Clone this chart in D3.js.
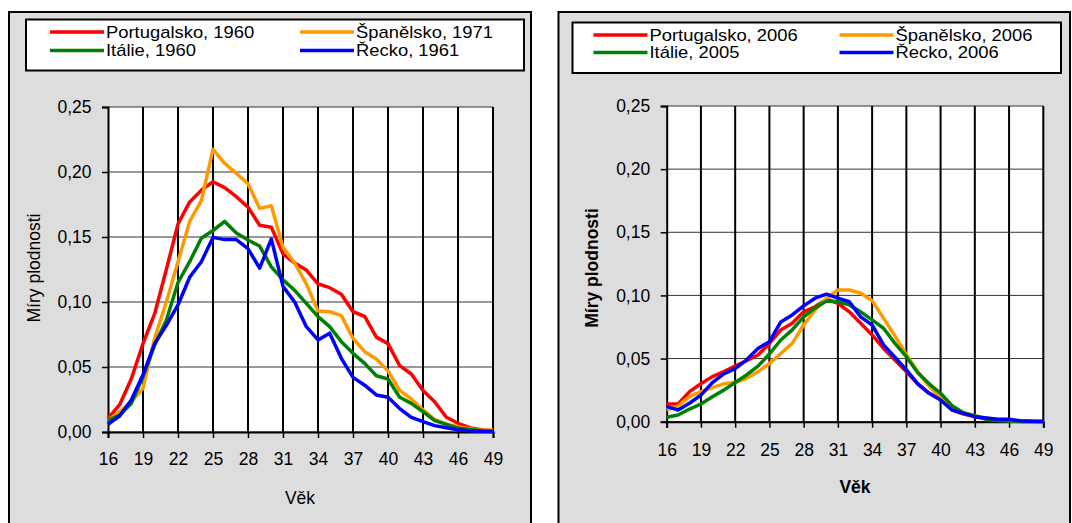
<!DOCTYPE html>
<html><head><meta charset="utf-8">
<script src="https://cdn.jsdelivr.net/npm/d3@7"></script>
<style>
html,body{margin:0;padding:0;background:#fff;}
svg{display:block;font-family:"Liberation Sans",Arial,sans-serif;}
</style></head>
<body>
<svg id="chart" width="1072" height="523"></svg>
<script>
// ---- data ----
const ages = [16,17,18,19,20,21,22,23,24,25,26,27,28,29,30,31,32,33,34,35,36,37,38,39,40,41,42,43,44,45,46,47,48,49];
const xTickLabels = [16,19,22,25,28,31,34,37,40,43,46,49];
const yTickValues = [0,0.05,0.10,0.15,0.20,0.25];

const portugal1960 = [0.0105,0.021,0.041,0.068,0.091,0.125,0.160,0.177,0.186,0.1925,0.188,0.181,0.173,0.159,0.1575,0.137,0.130,0.1246,0.114,0.111,0.106,0.0925,0.089,0.073,0.068,0.051,0.0446,0.032,0.0233,0.0113,0.0067,0.0033,0.0018,0.0005];
const spain1971 = [0.009,0.0156,0.0233,0.0336,0.072,0.100,0.131,0.162,0.178,0.2174,0.2067,0.199,0.191,0.172,0.174,0.142,0.130,0.114,0.093,0.0925,0.0895,0.072,0.0618,0.0562,0.047,0.032,0.0254,0.017,0.0098,0.006,0.004,0.0025,0.0013,0.0018];
const italy1960 = [0.009,0.013,0.022,0.0425,0.067,0.086,0.115,0.131,0.149,0.155,0.162,0.153,0.1477,0.143,0.127,0.117,0.109,0.099,0.0887,0.081,0.0695,0.0605,0.0528,0.0433,0.0408,0.0267,0.022,0.0156,0.0087,0.0059,0.003,0.002,0.001,0.0005];
const greece1961 = [0.006,0.0123,0.0246,0.044,0.068,0.082,0.0977,0.119,0.131,0.1497,0.148,0.148,0.141,0.126,0.1485,0.112,0.100,0.081,0.0708,0.076,0.0567,0.042,0.036,0.0285,0.0267,0.018,0.0113,0.008,0.0049,0.0033,0.0018,0.001,0.0005,0.0003];

const portugal2006 = [0.014,0.014,0.0238,0.030,0.0357,0.0396,0.044,0.0483,0.0528,0.062,0.0727,0.078,0.087,0.091,0.097,0.0938,0.087,0.078,0.0687,0.058,0.0489,0.0396,0.030,0.0225,0.0177,0.0093,0.006,0.004,0.0026,0.0013,0.0008,0.0003,0.0001,0];
const spain2006 = [0.0093,0.0124,0.0198,0.0238,0.027,0.030,0.031,0.0344,0.0396,0.046,0.054,0.062,0.0766,0.0885,0.0978,0.1043,0.1043,0.1017,0.0959,0.082,0.068,0.053,0.0396,0.028,0.019,0.0114,0.0067,0.0048,0.003,0.0018,0.001,0.0005,0.0002,0];
const italy2005 = [0.0035,0.0053,0.010,0.014,0.0198,0.025,0.031,0.037,0.044,0.0536,0.0647,0.0727,0.083,0.090,0.0956,0.095,0.0925,0.087,0.0806,0.074,0.062,0.0515,0.0388,0.030,0.0225,0.0127,0.0071,0.0045,0.0019,0.001,0.0005,0.0002,0.0001,0];
const greece2006 = [0.0119,0.0093,0.0146,0.021,0.031,0.0378,0.042,0.049,0.058,0.0634,0.079,0.0845,0.0917,0.0978,0.101,0.0978,0.095,0.083,0.0766,0.0608,0.051,0.041,0.030,0.0225,0.0172,0.0093,0.0066,0.004,0.003,0.0019,0.0019,0.0008,0.0003,0.0003];

const leftNames = ["Portugalsko, 1960","Španělsko, 1971","Itálie, 1960","Řecko, 1961"];
const rightNames = ["Portugalsko, 2006","Španělsko, 2006","Itálie, 2005","Řecko, 2006"];
const colors = ["#FF0000","#FF9900","#008000","#0000FF"];
const yTitle = "Míry plodnosti";
const xTitle = "Věk";

const svg = d3.select("#chart");
const fmt = v => d3.format(".2f")(v).replace(".", ",");

function panel(o){
  const g = svg.append("g");
  g.append("rect").attr("x",o.fx).attr("y",o.fy).attr("width",o.fw).attr("height",o.fh)
    .attr("fill","#DDDDDD").attr("stroke","#000").attr("stroke-width",2);
  g.append("rect").attr("x",o.lx).attr("y",o.ly).attr("width",o.lw).attr("height",o.lh)
    .attr("fill","#fff").attr("stroke","#000").attr("stroke-width",2);
  [0,1,2,3].forEach(i=>{
    const col = i%2, row = Math.floor(i/2);
    const lx0 = o.legCols[col], ly = o.legRows[row];
    g.append("line").attr("x1",lx0).attr("x2",lx0+o.legLine).attr("y1",ly).attr("y2",ly)
      .attr("stroke",colors[i]).attr("stroke-width",3.5);
    g.append("text")
      .attr("transform",`translate(${lx0+o.legLine+2},${ly}) scale(1.15,1)`)
      .attr("dy","0.35em")
      .attr("font-size",o.legFont).attr("fill","#000").text(o.names[i]);
  });
  const x = d3.scaleLinear().domain([16,49]).range([o.px0,o.px1]);
  const y = d3.scaleLinear().domain([0,0.25]).range([o.py0,o.py1]);
  g.append("rect").attr("x",o.px0).attr("y",o.py1).attr("width",o.px1-o.px0).attr("height",o.py0-o.py1).attr("fill","#fff");
  g.selectAll(".hg").data(yTickValues).enter().append("line")
    .attr("x1",o.px0).attr("x2",o.px1).attr("y1",d=>y(d)).attr("y2",d=>y(d))
    .attr("stroke","#333").attr("stroke-width",1);
  g.selectAll(".vg").data(xTickLabels.slice(1)).enter().append("line")
    .attr("x1",d=>x(d)).attr("x2",d=>x(d)).attr("y1",o.py1).attr("y2",o.py0)
    .attr("stroke","#000").attr("stroke-width",2);
  const xa = d3.axisBottom(x).tickValues(xTickLabels).tickSize(6).tickPadding(10).tickFormat(d=>d);
  const ya = d3.axisLeft(y).tickValues(yTickValues).tickSize(6).tickPadding(10).tickFormat(fmt);
  const gx = g.append("g").attr("transform",`translate(0,${o.py0})`).call(xa);
  const gy = g.append("g").attr("transform",`translate(${o.px0},0)`).call(ya);
  [gx,gy].forEach(a=>{
    a.select(".domain").attr("stroke","#000").attr("stroke-width",2);
    a.selectAll(".tick line").attr("stroke","#000").attr("stroke-width",1.5);
    a.selectAll("text").attr("font-size",o.tickFont).attr("fill","#000").attr("font-family","Liberation Sans, Arial, sans-serif");
  });
  gx.selectAll("text").attr("dy",null).attr("y",o.xLabelOff).attr("dominant-baseline","middle");
  gy.selectAll("text").attr("x",-16.5);
  const line = d3.line().x((d,i)=>x(ages[i])).y(d=>y(d));
  o.series.forEach((s,i)=>{
    g.append("path").datum(s).attr("d",line).attr("fill","none")
      .attr("stroke",colors[i]).attr("stroke-width",3.5).attr("stroke-linejoin","round");
  });
  g.append("text").attr("transform",`translate(${o.ytx},${o.yty}) rotate(-90)`)
    .attr("text-anchor","middle").attr("dominant-baseline","middle")
    .attr("font-size",o.titleFont).attr("font-weight",o.bold?"bold":"normal").text(yTitle);
  g.append("text").attr("x",o.xtx).attr("y",o.xty)
    .attr("text-anchor","middle").attr("dominant-baseline","middle")
    .attr("font-size",o.titleFont).attr("font-weight",o.bold?"bold":"normal").text(xTitle);
}

panel({
  fx:9, fy:12, fw:522, fh:530,
  lx:26, ly:19.5, lw:498, lh:51,
  legCols:[50,300], legRows:[32,50.5], legLine:54, legFont:16,
  names:leftNames,
  px0:108, px1:493, py0:432, py1:107,
  series:[portugal1960,spain1971,italy1960,greece1961],
  tickFont:17.5, xLabelOff:28.6, titleFont:17.5, bold:false,
  ytx:35, yty:268, xtx:300, xty:499
});
panel({
  fx:558.5, fy:12, fw:511.5, fh:530,
  lx:572.5, ly:22.5, lw:488.5, lh:50.5,
  legCols:[593.5,839.5], legRows:[35,52.6], legLine:54, legFont:16,
  names:rightNames,
  px0:666.7, px1:1043.3, py0:421.7, py1:106,
  series:[portugal2006,spain2006,italy2005,greece2006],
  tickFont:17.5, xLabelOff:30, titleFont:17.5, bold:true,
  ytx:593, yty:268, xtx:855, xty:488
});
</script>
</body></html>
